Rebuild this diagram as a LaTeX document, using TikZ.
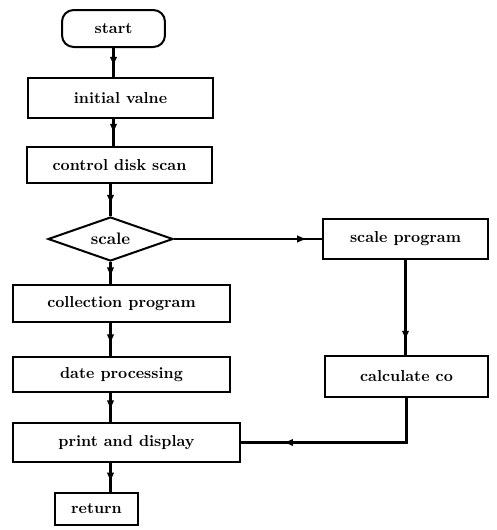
\documentclass[tikz,border=0pt]{standalone}
\usepackage{tikz}
\usetikzlibrary{shapes.geometric,arrows.meta,decorations.markings}

\tikzset{
  box/.style={draw,line width=1.2pt,rectangle,inner sep=2pt,
    font=\fontsize{9.5}{11}\selectfont\bfseries},
  term/.style={box,rounded corners=7pt},
  decision/.style={draw,line width=1.2pt,diamond,aspect=2.8,inner sep=1pt,
    font=\fontsize{10}{12}\selectfont\bfseries},
  flow/.style={draw,line width=1.4pt,postaction={decorate},
    decoration={markings,mark=at position #1 with {\arrow{Latex[length=6pt,width=4.5pt]}}}},
  flow/.default=0.6
}

\begin{document}
\begin{tikzpicture}[x=0.6pt,y=-0.6pt]
        \useasboundingbox (0,0) rectangle (497,530);

        % main column
        \node[term,minimum width=61.8pt,minimum height=22.2pt] (start) at (113.5,28.5) {start};
        \node[box,minimum width=111pt,minimum height=24pt] (init) at (120.5,98) {initial valne};
        \node[box,minimum width=111pt,minimum height=21.6pt] (scan) at (119.5,165) {control disk scan};
        \node[decision,minimum width=75pt,minimum height=26.4pt] (scale) at (110.5,239) {scale};
        \node[box,minimum width=130.2pt,minimum height=22.2pt] (collect) at (121.5,303.5) {collection program};
        \node[box,minimum width=130.2pt,minimum height=21pt] (date) at (121.5,374.5) {date processing};
        \node[box,minimum width=136.2pt,minimum height=23.4pt] (print) at (126.5,442.5) {print and display};
        \node[box,minimum width=49.8pt,minimum height=19.2pt] (ret) at (96.5,509) {return};

        % side branch
        \node[box,minimum width=99pt,minimum height=24pt] (sprog) at (405.5,239) {scale program};
        \node[box,minimum width=97.8pt,minimum height=24.6pt] (calc) at (406.5,376.5) {calculate co};

        % connectors
        \draw[flow=0.65] (start.south) -- (start.south |- init.north);
        \draw[flow=0.55] (start.south |- init.south) -- (start.south |- scan.north);
        \draw[flow=0.65] (scale.north |- scan.south) -- (scale.north);
        \draw[flow=0.7] (scale.south) -- (scale.south |- collect.north);
        \draw[flow=0.65] (scale.south |- collect.south) -- (scale.south |- date.north);
        \draw[flow=0.6] (scale.south |- date.south) -- (scale.south |- print.north);
        \draw[flow=0.7] (ret.north -| scale.south) ++(0,-31) -- (ret.north -| scale.south);
        \draw[flow=0.9] (scale.east) -- (sprog.west);
        \draw[flow=0.85] (sprog.south) -- (sprog.south |- calc.north);
        \draw[flow=0.8] (calc.south) |- (print.east);
\end{tikzpicture}
\end{document}
